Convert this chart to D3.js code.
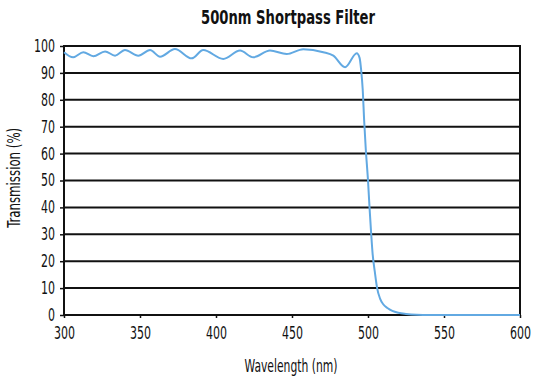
<!DOCTYPE html>
<html>
<head>
<meta charset="utf-8">
<script src="https://cdn.jsdelivr.net/npm/d3@7"></script>
<style>
  html, body { margin: 0; padding: 0; background: #fff; }
  svg text { font-family: "DejaVu Sans Condensed", "Liberation Sans Narrow", sans-serif; fill: #111; }
</style>
</head>
<body>
<div id="chart"></div>
<script>
// wavelength (nm) and transmission (%)
const wavelengths = [300, 306, 312.7, 319.3, 327, 333.6, 340.1, 348.9, 356.6, 363.2, 373, 384, 391.6,
  404.8, 415.8, 424.5, 435.5, 446.5, 457.4, 470.6, 477.2, 484.9, 492.6, 494.5, 495.5, 496.5, 497.5,
  498.5, 500, 501, 502, 503, 504.5, 506, 508, 510, 513, 516, 520, 525, 532, 540, 600];
const transmission = [97.7, 95.8, 97.7, 96.2, 98.0, 96.4, 98.5, 96.4, 98.5, 96.0, 98.9, 95.4, 98.5,
  95.2, 98.3, 95.8, 98.3, 97.0, 98.8, 97.7, 96.4, 92.1, 97.3, 95.5, 91, 84, 72,
  62, 50, 40, 31, 23, 16, 10, 6, 4, 2.5, 1.5, 0.8, 0.4, 0.1, 0, 0];
const xTicks = [300, 350, 400, 450, 500, 550, 600];
const yTicks = [0, 10, 20, 30, 40, 50, 60, 70, 80, 90, 100];

const width = 550, height = 379;
const margin = { top: 46, right: 30, bottom: 64, left: 64 };

const svg = d3.select("#chart").append("svg")
  .attr("width", width)
  .attr("height", height);

const x = d3.scaleLinear().domain([300, 600]).range([margin.left, width - margin.right]);
const y = d3.scaleLinear().domain([0, 100]).range([height - margin.bottom, margin.top]);

// horizontal grid
svg.append("g")
  .selectAll("line")
  .data(yTicks)
  .join("line")
  .attr("x1", x(300)).attr("x2", x(600))
  .attr("y1", d => y(d)).attr("y2", d => y(d))
  .attr("stroke", "#111")
  .attr("stroke-width", 2);

// frame
svg.append("rect")
  .attr("x", x(300)).attr("y", y(100))
  .attr("width", x(600) - x(300)).attr("height", y(0) - y(100))
  .attr("fill", "none")
  .attr("stroke", "#111")
  .attr("stroke-width", 2);

// narrow glyphs like the condensed font of the original
function squeeze(sel) {
  sel.attr("font-size", 17)
    .attr("font-family", null)
    .attr("lengthAdjust", "spacingAndGlyphs")
    .attr("textLength", function () { return this.textContent.length * 7; });
}

const yAxis = d3.axisLeft(y).tickValues(yTicks).tickSize(4).tickPadding(5);
svg.append("g")
  .attr("transform", "translate(" + x(300) + ",0)")
  .call(yAxis)
  .call(g => g.select(".domain").remove())
  .call(g => g.selectAll(".tick line").attr("stroke", "#111").attr("stroke-width", 1.5))
  .call(g => g.selectAll(".tick text").call(squeeze));

const xAxis = d3.axisBottom(x).tickValues(xTicks).tickSize(3).tickPadding(9);
svg.append("g")
  .attr("transform", "translate(0," + y(0) + ")")
  .call(xAxis)
  .call(g => g.select(".domain").remove())
  .call(g => g.selectAll(".tick line").attr("stroke", "#111").attr("stroke-width", 1.5))
  .call(g => g.selectAll(".tick text").call(squeeze));

// transmission curve
const points = wavelengths.map((w, i) => [w, transmission[i]]);
const line = d3.line()
  .x(d => x(d[0]))
  .y(d => y(d[1]))
  .curve(d3.curveMonotoneX);

svg.append("path")
  .datum(points)
  .attr("fill", "none")
  .attr("stroke", "#62a9e2")
  .attr("stroke-width", 2)
  .attr("d", line);

// titles
svg.append("text")
  .attr("x", 288).attr("y", 24)
  .attr("text-anchor", "middle")
  .attr("font-size", 19)
  .attr("font-weight", "bold")
  .attr("lengthAdjust", "spacingAndGlyphs")
  .attr("textLength", 174)
  .text("500nm Shortpass Filter");

svg.append("text")
  .attr("x", 291).attr("y", 372)
  .attr("text-anchor", "middle")
  .attr("font-size", 17)
  .attr("lengthAdjust", "spacingAndGlyphs")
  .attr("textLength", 93)
  .text("Wavelength (nm)");

svg.append("text")
  .attr("transform", "translate(20," + y(51) + ") rotate(-90)")
  .attr("text-anchor", "middle")
  .attr("font-size", 17)
  .attr("lengthAdjust", "spacingAndGlyphs")
  .attr("textLength", 100)
  .text("Transmission (%)");
</script>
</body>
</html>
